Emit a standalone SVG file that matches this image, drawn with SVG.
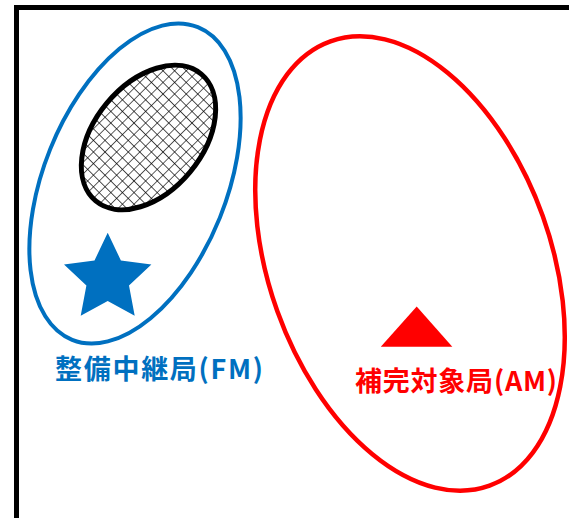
<svg xmlns="http://www.w3.org/2000/svg" width="569" height="518" viewBox="0 0 569 518">
<defs>
<pattern id="hatch" patternUnits="userSpaceOnUse" width="8.2" height="8.2" patternTransform="rotate(5.2)">
<rect width="8.2" height="8.2" fill="#fff"/>
<path d="M0,0 H8.2 M0,0 V8.2" stroke="#000" stroke-width="1.25" fill="none"/>
</pattern>
<style>
.lbl{font-family:"Noto Sans CJK JP","Noto Sans",sans-serif;font-weight:bold;font-size:27px}
</style>
</defs>
<rect width="569" height="518" fill="#fff"/>
<g id="frame"><path d="M16.5,522 V7.5 H572" fill="none" stroke="#000" stroke-width="5"/></g>
<g id="fm-group">
<ellipse cx="135" cy="183.5" rx="91.5" ry="168.5" transform="rotate(21.9 135 183.5)" fill="none" stroke="#0070C0" stroke-width="4"/>
</g>
<g id="area">
<ellipse cx="148.5" cy="137.5" rx="54" ry="82.5" transform="rotate(39.8 148.5 137.5)" fill="url(#hatch)" stroke="#000" stroke-width="5"/>
</g>
<g id="star">
<polygon points="107.7,232.7 120.9,260.5 151.4,264.4 129,285.5 134.7,315.7 107.7,301 80.7,315.7 86.4,285.5 64,264.4 94.5,260.5" fill="#0070C0"/>
</g>
<g id="fm-label"><text class="lbl" x="55" y="379" fill="#0070C0" textLength="208" lengthAdjust="spacing">整備中継局(FM)</text></g>
<g id="triangle"><polygon points="416.7,306.5 452.3,346.7 380.8,346.7" fill="#FF0000"/></g>
<g id="am-label"><text class="lbl" x="355" y="390.5" fill="#FF0000" textLength="202" lengthAdjust="spacing">補完対象局(AM)</text></g>
<g id="am-group">
<ellipse cx="410" cy="263.5" rx="141" ry="236" transform="rotate(-19.7 410 263.5)" fill="none" stroke="#FF0000" stroke-width="4.5"/>
</g>
<g id="connectors"/>
</svg>
